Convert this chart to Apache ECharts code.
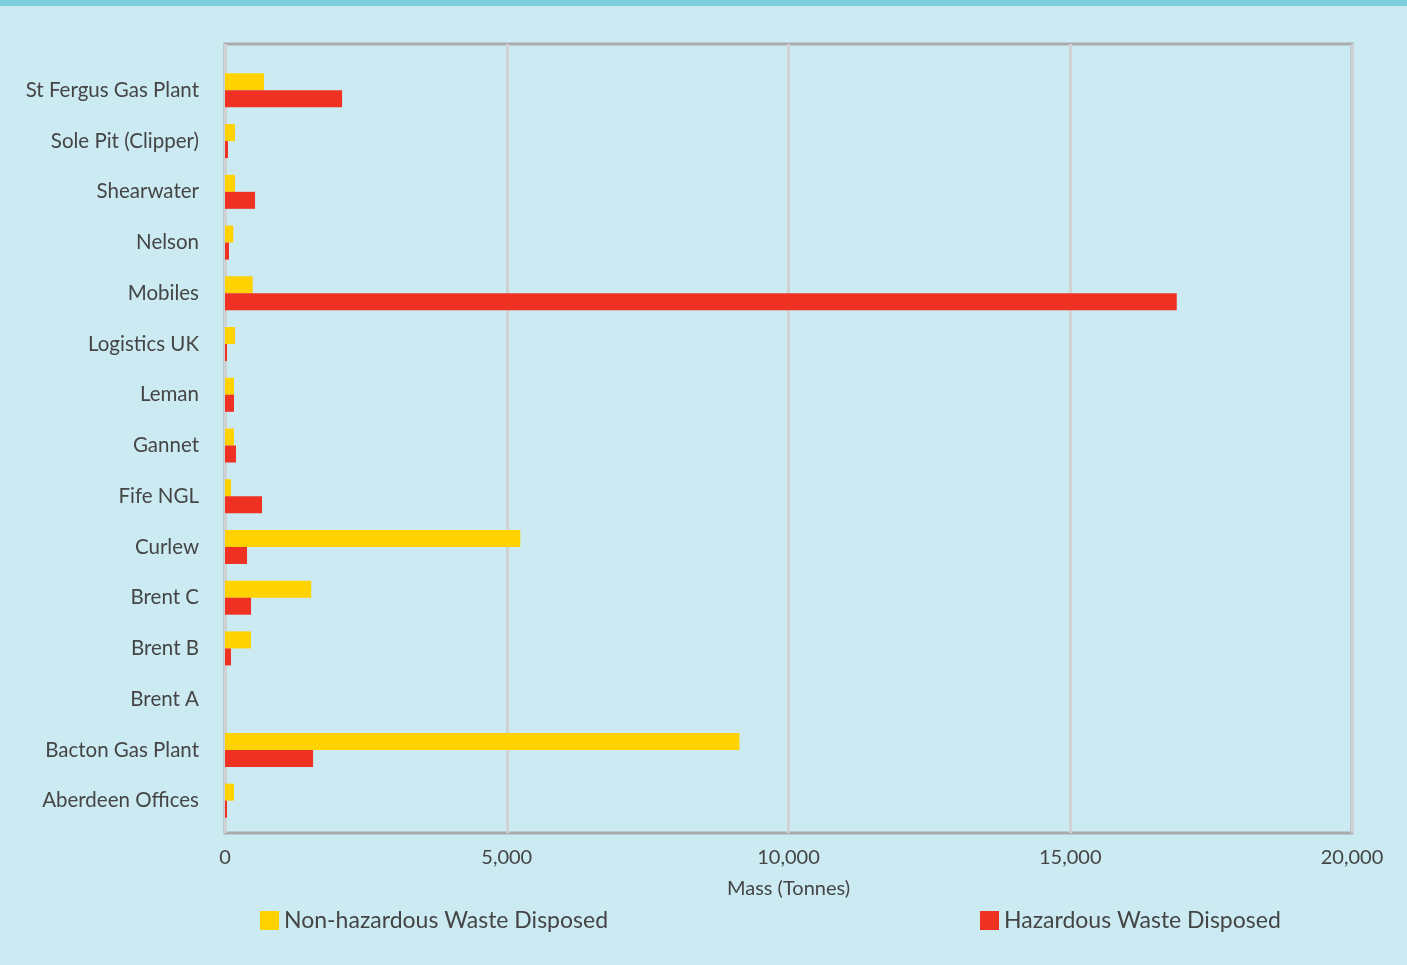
<!DOCTYPE html>
<html>
<head>
<meta charset="utf-8">
<style>
  html, body { margin: 0; padding: 0; background: #cbeaf2; }
  #chart { width: 1407px; height: 965px; border-top: 6px solid #7ccfdf; box-sizing: border-box; }
</style>
<script src="https://cdn.jsdelivr.net/npm/echarts@6/dist/echarts.min.js"></script>
</head>
<body>
<div id="chart"></div>
<script>
// categories bottom to top (category axis starts at the bottom)
const sites = ['Aberdeen Offices', 'Bacton Gas Plant', 'Brent A', 'Brent B', 'Brent C', 'Curlew',
  'Fife NGL', 'Gannet', 'Leman', 'Logistics UK', 'Mobiles', 'Nelson', 'Shearwater',
  'Sole Pit (Clipper)', 'St Fergus Gas Plant']
const nonHazardous = [160, 9130, 0, 460, 1530, 5240, 107, 160, 160, 178, 492, 147, 178, 178, 693]
const hazardous = [36, 1563, 0, 107, 462, 391, 657, 195, 160, 36, 16890, 71, 533, 53, 2078]
const xTicks = { min: 0, max: 20000, interval: 5000 }

const textColor = '#454545'
const font = 'Lato, "Noto Sans", sans-serif'

const chart = echarts.init(document.getElementById('chart'))
chart.setOption({
  backgroundColor: '#cbeaf2',
  grid: [
    // frame with the value axis and split lines
    {
      left: 225,
      right: 55,
      top: 38,
      bottom: 132,
      show: true,
      borderColor: '#a9abad',
      borderWidth: 3,
      backgroundColor: 'transparent'
    },
    // bars, the categories do not fill the whole frame
    {
      left: 225,
      right: 55,
      top: 59,
      bottom: 139
    }
  ],
  legend: [
    {
      data: ['Non-hazardous Waste Disposed'],
      left: 255,
      top: 898,
      itemWidth: 19,
      itemHeight: 19,
      icon: 'rect',
      textStyle: { color: textColor, fontSize: 23, fontFamily: font }
    },
    {
      data: ['Hazardous Waste Disposed'],
      left: 975,
      top: 898,
      itemWidth: 19,
      itemHeight: 19,
      icon: 'rect',
      textStyle: { color: textColor, fontSize: 23, fontFamily: font }
    }
  ],
  xAxis: [
    {
      gridIndex: 0,
      type: 'value',
      min: xTicks.min,
      max: xTicks.max,
      interval: xTicks.interval,
      name: 'Mass (Tonnes)',
      nameLocation: 'middle',
      nameGap: 46,
      nameTextStyle: { color: textColor, fontSize: 20, fontFamily: font },
      axisLine: { show: false },
      axisTick: { show: false },
      axisLabel: { color: textColor, fontSize: 20, fontFamily: font, margin: 15 },
      splitLine: { lineStyle: { color: '#cfd1d3', width: 3 } }
    },
    {
      gridIndex: 1,
      type: 'value',
      min: xTicks.min,
      max: xTicks.max,
      interval: xTicks.interval,
      show: false
    }
  ],
  yAxis: [
    {
      gridIndex: 0,
      type: 'value',
      show: false
    },
    {
      gridIndex: 1,
      type: 'category',
      data: sites,
      axisLine: { show: false },
      axisTick: { show: false },
      splitLine: { show: false },
      axisLabel: { color: textColor, fontSize: 20.5, fontFamily: font, margin: 26, padding: [6, 0, 0, 0] }
    }
  ],
  series: [
    {
      name: 'Non-hazardous Waste Disposed',
      type: 'bar',
      xAxisIndex: 1,
      yAxisIndex: 1,
      data: nonHazardous,
      barWidth: 17,
      barGap: '0%',
      itemStyle: { color: '#ffd200' }
    },
    {
      name: 'Hazardous Waste Disposed',
      type: 'bar',
      xAxisIndex: 1,
      yAxisIndex: 1,
      data: hazardous,
      barWidth: 17,
      barGap: '0%',
      itemStyle: { color: '#ef3124' }
    }
  ]
})
</script>
</body>
</html>
